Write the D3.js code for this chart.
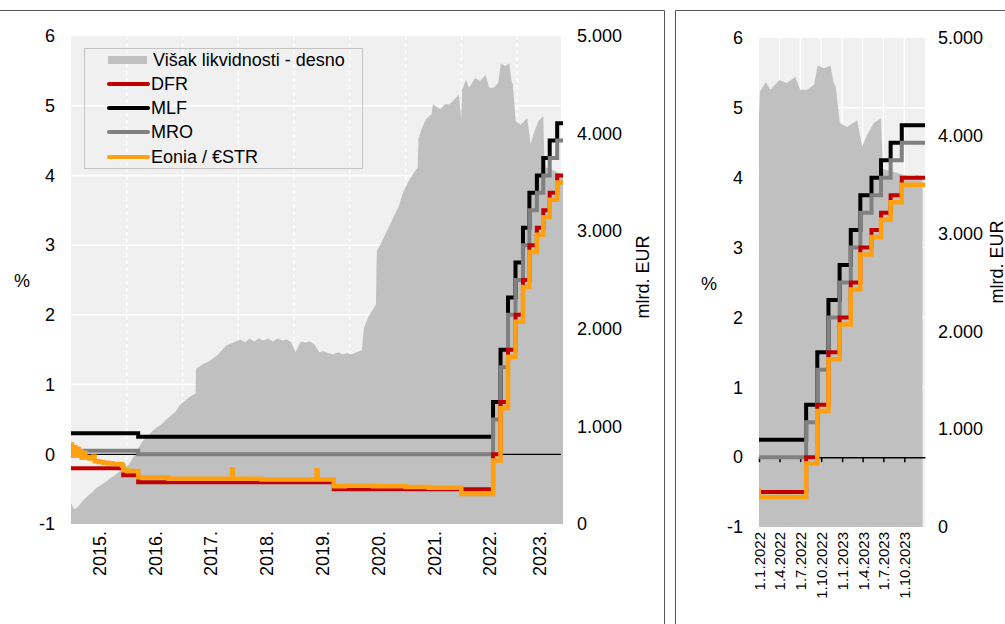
<!DOCTYPE html>
<html><head><meta charset="utf-8">
<script src="https://cdn.jsdelivr.net/npm/d3@7"></script>
<style>
body{margin:0;background:#fff}
svg{display:block}
text{font-family:"Liberation Sans",Arial,sans-serif;fill:#000}
</style>
</head><body>
<svg id="c" width="1005" height="624"></svg>
<script>
// ---------- DATA ----------
const liqDates = ["2015-01-01","2015-01-20","2015-02-15","2015-03-15","2015-04-15","2015-05-15","2015-06-15","2015-07-15","2015-08-15","2015-09-15","2015-10-15","2015-11-15","2015-12-15",
"2016-01-15","2016-02-15","2016-03-15","2016-04-15","2016-05-15","2016-06-15","2016-07-15","2016-08-15","2016-09-15","2016-10-15","2016-11-15","2016-12-15",
"2017-01-15","2017-02-15","2017-03-27","2017-03-30","2017-04-20","2017-05-15","2017-06-15","2017-07-15","2017-08-15","2017-09-15","2017-10-15","2017-11-15","2017-12-15",
"2018-01-15","2018-02-15","2018-03-15","2018-04-15","2018-05-15","2018-06-15","2018-07-15","2018-08-15","2018-09-15","2018-10-15","2018-11-15","2018-12-15",
"2019-01-10","2019-02-15","2019-03-15","2019-04-15","2019-05-15","2019-06-15","2019-07-15","2019-08-15","2019-09-15","2019-10-15","2019-11-15","2019-12-15",
"2020-01-15","2020-02-15","2020-03-20","2020-04-01","2020-05-01","2020-06-20","2020-06-26","2020-07-15","2020-08-15","2020-09-15","2020-10-15","2020-11-15","2020-12-15",
"2021-01-15","2021-02-15","2021-03-20","2021-03-26","2021-04-15","2021-05-15","2021-06-20","2021-06-28","2021-07-15","2021-08-15","2021-09-15","2021-10-15","2021-11-15","2021-12-15","2021-12-31",
"2022-01-05","2022-01-31","2022-02-20","2022-04-01","2022-05-03","2022-06-09","2022-07-01","2022-08-01","2022-08-30","2022-09-16","2022-10-14","2022-11-11","2022-11-24","2022-12-04","2022-12-22",
"2023-01-23","2023-03-08","2023-03-30","2023-04-21","2023-05-20","2023-06-21","2023-06-29","2023-07-31","2023-08-31","2023-09-30","2023-10-31","2023-11-30","2023-12-20"];
const liqValues = [215,150,175,230,280,320,370,400,430,470,500,540,570,
610,690,770,850,900,950,990,1020,1070,1110,1150,1220,
1260,1300,1340,1590,1610,1640,1660,1690,1730,1780,1830,1850,1870,
1890,1860,1900,1870,1900,1880,1900,1870,1900,1880,1890,1860,
1760,1870,1860,1870,1840,1760,1770,1750,1740,1760,1740,1750,
1740,1760,1780,2000,2120,2250,2800,2850,2950,3050,3150,3250,3400,
3500,3580,3650,3950,4050,4150,4200,4300,4280,4250,4300,4300,4350,4400,4150,
4450,4550,4470,4570,4540,4600,4470,4470,4520,4720,4690,4720,4550,4500,4130,
4090,4160,3890,4010,4130,4180,3660,3640,3620,3600,3580,3600,3560];

const dfrDates = ["2015-01-01","2015-12-09","2016-03-16","2019-09-18","2022-07-27","2022-09-14","2022-11-02","2022-12-21","2023-02-08","2023-03-22","2023-05-10","2023-06-21","2023-08-02","2023-09-20","2023-12-31"];
const dfrValues = [-0.20,-0.30,-0.40,-0.50,0.00,0.75,1.50,2.00,2.50,3.00,3.25,3.50,3.75,4.00,4.00];

const mroDates = ["2015-01-01","2016-03-16","2022-07-27","2022-09-14","2022-11-02","2022-12-21","2023-02-08","2023-03-22","2023-05-10","2023-06-21","2023-08-02","2023-09-20","2023-12-31"];
const mroValues = [0.05,0.00,0.50,1.25,2.00,2.50,3.00,3.50,3.75,4.00,4.25,4.50,4.50];

const mlfDates = ["2015-01-01","2016-03-16","2022-07-27","2022-09-14","2022-11-02","2022-12-21","2023-02-08","2023-03-22","2023-05-10","2023-06-21","2023-08-02","2023-09-20","2023-12-31"];
const mlfValues = [0.30,0.25,0.75,1.50,2.25,2.75,3.25,3.75,4.00,4.25,4.50,4.75,4.75];

const eoniaDates = ["2015-01-01","2015-01-08","2015-01-20","2015-01-30","2015-02-10","2015-02-20","2015-03-02","2015-03-12","2015-03-31","2015-04-05","2015-05-01","2015-05-29","2015-06-05","2015-07-01","2015-08-01","2015-09-01","2015-10-01","2015-11-01","2015-12-01","2015-12-09",
"2016-01-01","2016-03-16","2016-06-01","2016-10-01","2017-01-01","2017-11-20","2017-11-27","2018-06-01","2019-05-28","2019-06-04","2019-09-18","2019-12-01","2020-06-01","2021-01-01","2021-06-01","2021-12-31",
"2022-07-27","2022-09-14","2022-11-02","2022-12-21","2023-02-08","2023-03-22","2023-05-10","2023-06-21","2023-08-02","2023-09-20","2023-12-31"];
const eoniaValues = [0.14,-0.02,0.10,0.00,0.08,-0.02,0.04,-0.05,0.02,-0.04,-0.06,-0.03,-0.10,-0.11,-0.12,-0.13,-0.14,-0.14,-0.16,-0.23,
-0.24,-0.33,-0.33,-0.35,-0.35,-0.22,-0.35,-0.36,-0.23,-0.36,-0.46,-0.45,-0.46,-0.47,-0.48,-0.57,
-0.09,0.66,1.40,1.90,2.40,2.90,3.15,3.40,3.65,3.90,3.90];

const yearLabels = ["2015.","2016.","2017.","2018.","2019.","2020.","2021.","2022.","2023."];
const quarterLabels = ["1.1.2022","1.4.2022","1.7.2022","1.10.2022","1.1.2023","1.4.2023","1.7.2023","1.10.2023"];
const leftTicks = [-1,0,1,2,3,4,5,6];
const rightTicks = [0,1000,2000,3000,4000,5000];
const legendLabels = ["Višak likvidnosti - desno","DFR","MLF","MRO","Eonia / €STR"];
const leftAxisTitle = "%";
const rightAxisTitle = "mlrd. EUR";

// ---------- DRAW ----------
const parse = d3.timeParse("%Y-%m-%d");
const ser = (ds, vs) => ds.map((d,i)=>({date:parse(d), v:vs[i]}));
const liq = ser(liqDates, liqValues);
const lines = [
  {data: ser(mlfDates, mlfValues), color:"#000000", w:4},
  {data: ser(mroDates, mroValues), color:"#808080", w:4},
  {data: ser(dfrDates, dfrValues), color:"#c00000", w:4},
  {data: ser(eoniaDates, eoniaValues), color:"#ffa010", w:4.5}
];
const fmtK = d3.formatLocale({decimal:",",thousands:".",grouping:[3],currency:["",""]}).format(",");
const FONT = '"Liberation Sans", Arial, sans-serif';
const svg = d3.select("#c");

// frames
svg.append("path").attr("d","M0,10.5H664.5V624").attr("fill","none").attr("stroke","#555").attr("stroke-width",1);
svg.append("path").attr("d","M675.5,624V10.5H1005").attr("fill","none").attr("stroke","#555").attr("stroke-width",1);

function panel(p, id){
  const g = svg.append("g");
  const x = d3.scaleTime().domain([parse(p.start), parse(p.end)]).range([p.x0, p.x1]);
  const yL = d3.scaleLinear().domain([-1,6]).range([p.y1, p.y0]);
  const yR = d3.scaleLinear().domain([0,5000]).range([p.y1, p.y0]);

  g.append("rect").attr("x",p.x0).attr("y",p.y0).attr("width",p.x1-p.x0).attr("height",p.y1-p.y0).attr("fill","#f0f0f0");
  // gridlines
  g.selectAll(null).data(leftTicks.filter(t=>t>-1 && t<6)).join("line")
    .attr("x1",p.x0).attr("x2",p.x1).attr("y1",d=>yL(d)).attr("y2",d=>yL(d))
    .attr("stroke","#fff").attr("stroke-width",1.5);
  g.selectAll(null).data(p.gridDates.map(parse)).join("line")
    .attr("x1",d=>x(d)).attr("x2",d=>x(d)).attr("y1",p.y0).attr("y2",p.y1)
    .attr("stroke","#fff").attr("stroke-width",1.3).attr("stroke-dasharray",p.dash || null);

  const clip = svg.append("clipPath").attr("id","clip"+id);
  clip.append("rect").attr("x",p.x0).attr("y",p.y0-10).attr("width",p.x1-p.x0+2).attr("height",p.y1-p.y0+20);
  const c = g.append("g").attr("clip-path","url(#clip"+id+")");

  c.append("path").datum(liq).attr("fill","#c0c0c0")
    .attr("d", d3.area().x(d=>x(d.date)).y0(yR(0)).y1(d=>yR(d.v)));

  // zero line
  if (p.zeroTicks) {
    const ax = g.append("g").attr("transform",`translate(0,${yL(0)})`)
      .call(d3.axisBottom(x).tickValues(p.tickDates.map(parse)).tickSize(5).tickSizeOuter(0).tickFormat(""));
    ax.select(".domain").attr("stroke","#000").attr("stroke-width",1.5);
    ax.selectAll(".tick line").attr("stroke","#000").attr("stroke-width",1.5);
  } else {
    g.append("line").attr("x1",p.x0).attr("x2",p.x1).attr("y1",yL(0)).attr("y2",yL(0)).attr("stroke","#000").attr("stroke-width",1.2);
  }

  const c2 = g.append("g").attr("clip-path","url(#clip"+id+")");
  lines.forEach(l=>{
    c2.append("path").datum(l.data).attr("fill","none").attr("stroke",l.color).attr("stroke-width",l.w)
      .attr("stroke-linejoin","miter")
      .attr("d", d3.line().curve(d3.curveStepAfter).x(d=>x(d.date)).y(d=>yL(d.v)));
  });

  // left axis
  const la = g.append("g").attr("transform",`translate(${p.x0},0)`)
    .call(d3.axisLeft(yL).tickValues(leftTicks).tickSize(0).tickPadding(p.padL).tickFormat(d=>String(d)));
  la.select(".domain").remove();
  la.attr("font-size",18).attr("font-family",FONT);
  // right axis
  const ra = g.append("g").attr("transform",`translate(${p.x1},0)`)
    .call(d3.axisRight(yR).tickValues(rightTicks).tickSize(0).tickPadding(p.padR).tickFormat(d=>fmtK(d)));
  ra.select(".domain").remove();
  ra.attr("font-size",18).attr("font-family",FONT);
  // bottom labels
  const ba = g.append("g").attr("transform",`translate(0,${p.y1})`)
    .call(d3.axisBottom(x).tickValues(p.labelDates).tickSize(0).tickFormat((d,i)=>p.labels[i]));
  ba.select(".domain").remove();
  ba.attr("font-size",p.xfs).attr("font-family",FONT);
  ba.selectAll("text").attr("transform","rotate(-90)").attr("text-anchor","end")
    .attr("x",-p.padB).attr("y",0).attr("dy","0.36em");

  g.append("text").attr("x",p.pctX).attr("y",p.pctY).attr("text-anchor","middle").attr("dominant-baseline","middle")
    .attr("font-size",18).text(leftAxisTitle);
  g.append("text").attr("transform",`translate(${p.eurX},${p.eurY}) rotate(-90)`).attr("text-anchor","middle")
    .attr("dominant-baseline","middle").attr("font-size",18).text(rightAxisTitle);
  return {x, yL};
}

// left panel: year labels at middle of each year span inside domain
const lStart = "2015-01-01", lEnd = "2023-10-15";
const ls = parse(lStart), le = parse(lEnd);
const yearMid = yearLabels.map((l,i)=>{
  const a = new Date(Math.max(+new Date(2015+i,0,1), +ls));
  const b = new Date(Math.min(+new Date(2016+i,0,1), +le));
  return new Date((+a + +b)/2);
});
panel({start:lStart, end:lEnd, x0:71, x1:561, y0:36, y1:524,
  gridDates:["2016-01-01","2017-01-01","2018-01-01","2019-01-01","2020-01-01","2021-01-01","2022-01-01","2023-01-01"], dash:"4,3",
  labelDates: yearMid, labels: yearLabels, xfs:18, padB:7,
  padL:16, padR:16, pctX:22, pctY:282, eurX:644, eurY:277, zeroTicks:false}, "L");

const qDates = ["2022-01-01","2022-04-01","2022-07-01","2022-10-01","2023-01-01","2023-04-01","2023-07-01","2023-10-01"];
panel({start:"2022-01-01", end:"2023-12-31", x0:759, x1:925, y0:38, y1:527,
  gridDates: qDates.slice(1), dash:null,
  labelDates: qDates.map(parse), labels: quarterLabels, xfs:15, padB:5, tickDates: qDates,
  padL:16, padR:13, pctX:709, pctY:285, eurX:998, eurY:262, zeroTicks:true}, "R");

// legend
const lg = svg.append("g");
lg.append("rect").attr("x",84.5).attr("y",48.5).attr("width",278).attr("height",120).attr("fill","none").attr("stroke","#c4c4c4");
const legY = [60,84,108,132,157];
lg.append("rect").attr("x",108).attr("y",legY[0]-4).attr("width",39).attr("height",8).attr("fill","#c0c0c0");
const legColors = [null,"#c00000","#000000","#808080","#ffa010"];
legendLabels.forEach((t,i)=>{
  if (i>0) lg.append("line").attr("x1",109).attr("x2",148).attr("y1",legY[i]).attr("y2",legY[i])
    .attr("stroke",legColors[i]).attr("stroke-width",4).attr("stroke-linecap","round");
  lg.append("text").attr("x",i===0?153:151).attr("y",legY[i]).attr("dy","0.35em").attr("font-size",18).text(t);
});
</script>
</body></html>
